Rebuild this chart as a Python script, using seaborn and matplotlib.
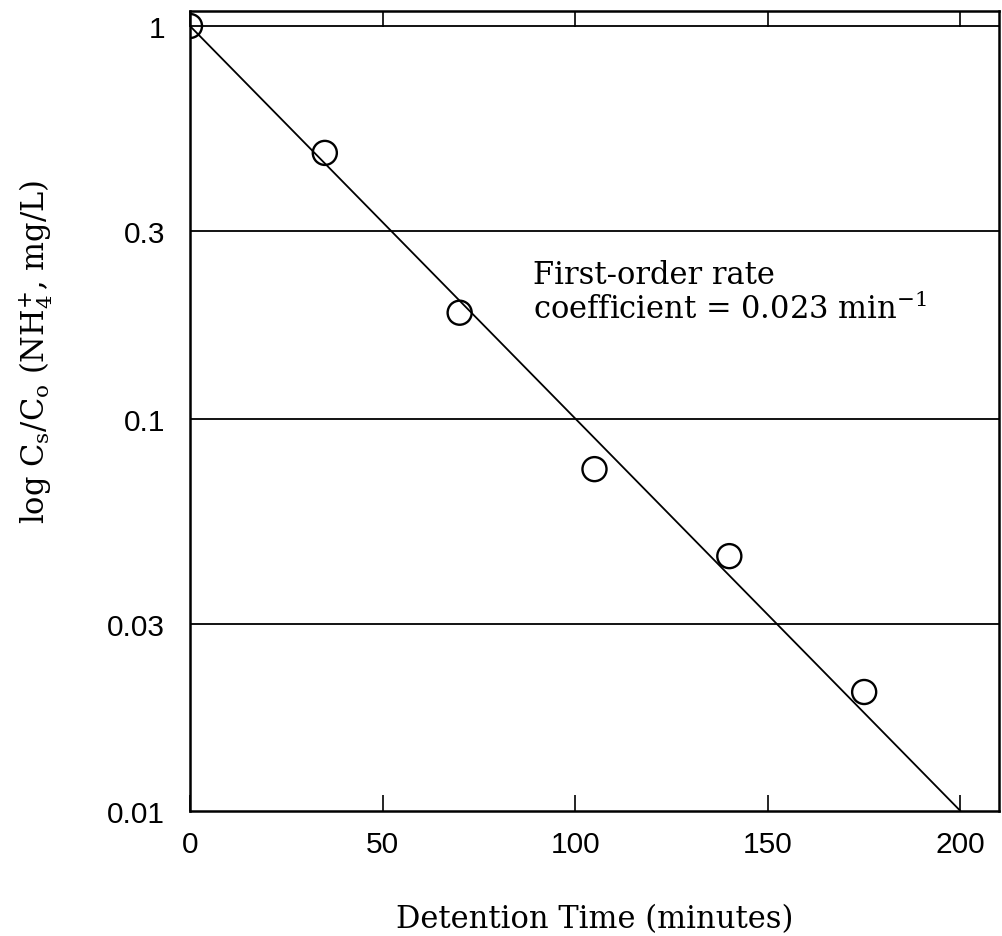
import matplotlib
matplotlib.use('Agg')
import matplotlib.pyplot as plt
import seaborn as sns
import pandas as pd

# Data
time_min = [0, 35, 70, 105, 140, 175]
conc_ratio = [1.0, 0.475, 0.186, 0.0743, 0.0446, 0.0201]
fit_time = [0, 200]
fit_ratio = [1.0, 0.01]
y_ticks = [0.01, 0.03, 0.1, 0.3, 1]
y_tick_labels = ['0.01', '0.03', '0.1', '0.3', '1']
x_ticks = [0, 50, 100, 150, 200]
grid_levels = [0.03, 0.1, 0.3, 1]

df = pd.DataFrame({'time': time_min, 'ratio': conc_ratio})
df_fit = pd.DataFrame({'time': fit_time, 'ratio': fit_ratio})

sns.set_theme(style='white')
plt.rcParams['font.family'] = ['DejaVu Serif']
plt.rcParams['mathtext.fontset'] = 'custom'
plt.rcParams['mathtext.rm'] = 'DejaVu Serif'
plt.rcParams['mathtext.it'] = 'DejaVu Serif'
for key in ['text.color', 'axes.labelcolor', 'xtick.color', 'ytick.color']:
    plt.rcParams[key] = 'black'

fig = plt.figure(figsize=(10.02, 9.37), dpi=100)
ax = fig.add_axes([0.1896, 0.1334, 0.997 - 0.1896, 0.9872 - 0.1334])

# horizontal lines at the labelled values
for yv in grid_levels:
    ax.axhline(yv, color='black', lw=1.3, zorder=1)

sns.lineplot(data=df_fit, x='time', y='ratio', ax=ax, color='black', lw=1.3, zorder=2)
sns.scatterplot(data=df, x='time', y='ratio', ax=ax, s=300, marker='o',
                facecolor='none', edgecolor='black', linewidth=1.7, zorder=3)

ax.set_yscale('log')
ax.set_xlim(0, 210)
ax.set_ylim(0.01, 1.092)
ax.set_yticks(y_ticks)
ax.set_yticklabels(y_tick_labels)
ax.minorticks_off()
ax.set_xticks(x_ticks)

for lab in ax.get_xticklabels() + ax.get_yticklabels():
    lab.set_fontfamily(['Liberation Sans', 'DejaVu Sans'])
    lab.set_fontsize(21.5)

ax.tick_params(axis='x', direction='in', length=11.5, width=1.2, top=True,
               bottom=True, pad=14)
ax.tick_params(axis='y', length=0, pad=18)

for sp in ax.spines.values():
    sp.set_color('black')
    sp.set_linewidth(1.8)

ax.set_xlabel('Detention Time (minutes)', fontsize=22, labelpad=32)
ax.set_ylabel(r'log C$_\mathrm{s}$/C$_\mathrm{o}$ (NH$_\mathrm{4}^\mathrm{+}$, mg/L)',
              fontsize=22)
ax.yaxis.set_label_coords(-0.167, 0.575)

ax.text(89, 0.255, 'First-order rate\ncoefficient = 0.023 min$^{\\mathrm{-1}}$',
        fontsize=22, va='top', ha='left', linespacing=1.1)

fig.savefig('out.png', dpi=100)
